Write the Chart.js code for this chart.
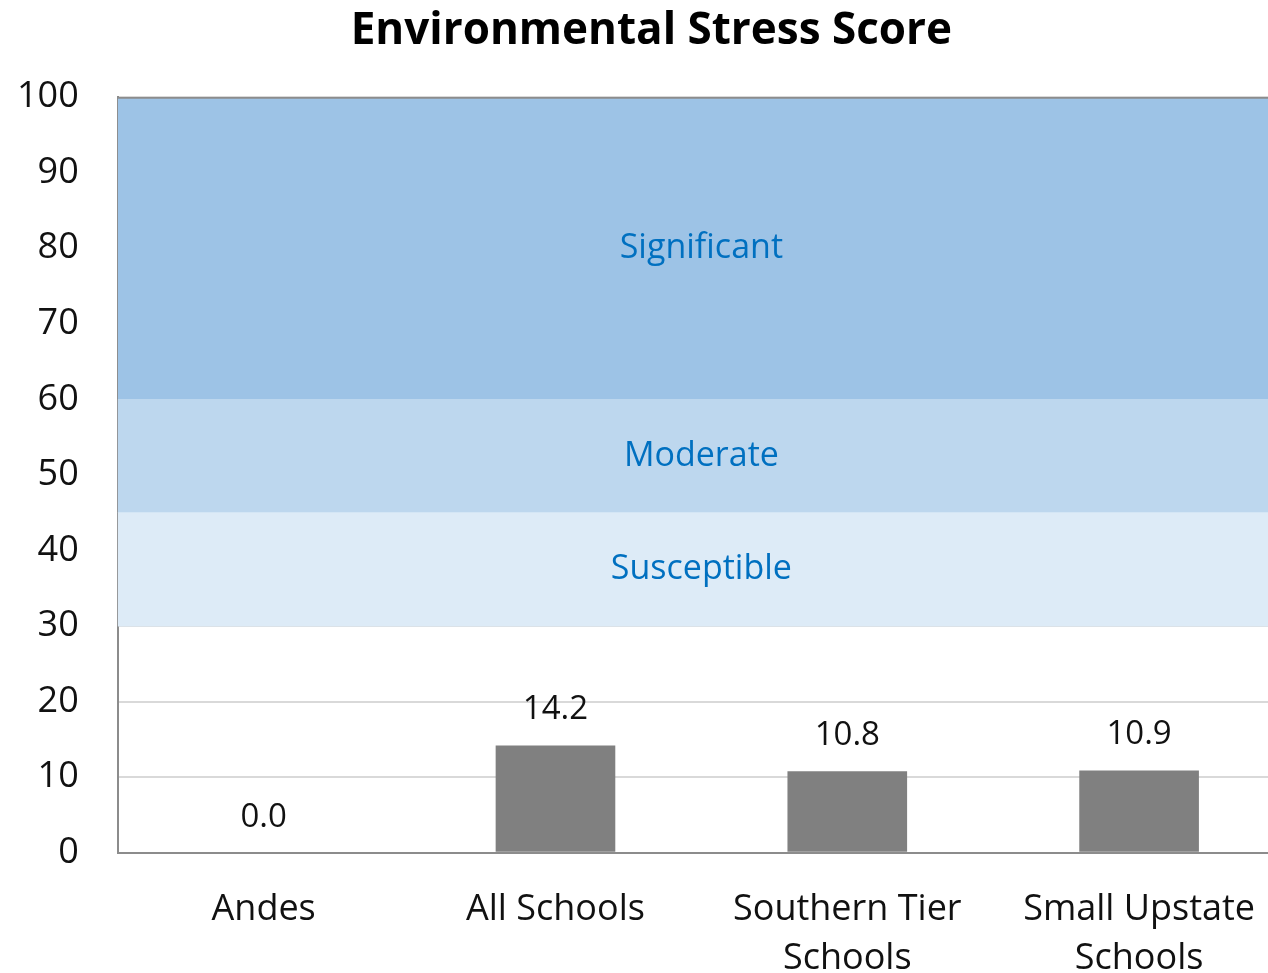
<!DOCTYPE html>
<html>
<head>
<meta charset="utf-8">
<script src="https://cdn.jsdelivr.net/npm/chart.js@4.4.1/dist/chart.umd.min.js"></script>
<style>
  html, body { margin: 0; padding: 0; background: #fff; overflow: hidden; }
  #wrap { position: relative; margin-left: -22px; width: 1346px; height: 1008px; }
</style>
</head>
<body>
<div id="wrap"><canvas id="chart"></canvas></div>
<script>
const chartTitle = 'Environmental Stress Score';

// categories and scores
const categories = ['Andes', 'All Schools', ['Southern Tier', 'Schools'], ['Small Upstate', 'Schools']];
const scores = [0.0, 14.2, 10.8, 10.9];

// background bands (stress levels)
const bandNames = ['Susceptible', 'Moderate', 'Significant'];
const bandLow = [30, 45, 60];
const bandHigh = [45, 60, 100];
const bandColors = ['#ddebf7', '#bdd7ee', '#9dc3e6'];

// y axis
const yMin = 0;
const yMax = 100;
const yStep = 10;

const FONT = '"Open Sans", sans-serif';

// band names in the middle of each band, value above each bar, and the title
const labelPlugin = {
  id: 'labels',
  afterDatasetsDraw(chart) {
    const ctx = chart.ctx;
    ctx.save();
    ctx.textAlign = 'center';
    chart.data.datasets.forEach((ds, i) => {
      const meta = chart.getDatasetMeta(i);
      if (ds.bandName) {
        const el = meta.data[0];
        ctx.font = '34px ' + FONT;
        ctx.fillStyle = '#0070c0';
        ctx.textBaseline = 'middle';
        ctx.fillText(ds.bandName, el.x, (el.y + el.base) / 2);
      } else {
        ctx.font = '33px ' + FONT;
        ctx.fillStyle = '#111';
        ctx.textBaseline = 'alphabetic';
        meta.data.forEach((el, j) => {
          ctx.fillText(ds.data[j].toFixed(1), el.x, el.y - 26);
        });
      }
    });
    // title sits a bit left of the plot centre, as in the original
    const area = chart.chartArea;
    ctx.font = 'bold 44px ' + FONT;
    ctx.fillStyle = '#000';
    ctx.textBaseline = 'middle';
    ctx.fillText(chartTitle, (area.left + area.right) / 2 - 50, 31);
    ctx.restore();
  }
};

const bandSets = bandNames.map((name, i) => ({
  label: name,
  bandName: name,
  data: [[bandLow[i], bandHigh[i]]],
  xAxisID: 'x2',
  backgroundColor: bandColors[i],
  borderColor: '#8c8c8c',
  borderWidth: i === bandNames.length - 1 ? { top: 2 } : 0,
  borderSkipped: false,
  grouped: false,
  barPercentage: 1,
  categoryPercentage: 1,
  order: 2
}));

new Chart(document.getElementById('chart'), {
  type: 'bar',
  data: {
    labels: categories,
    datasets: [
      {
        label: chartTitle,
        data: scores,
        backgroundColor: '#808080',
        grouped: false,
        barPercentage: 0.41,
        categoryPercentage: 1,
        order: 1
      },
      ...bandSets
    ]
  },
  options: {
    responsive: true,
    maintainAspectRatio: false,
    animation: false,
    layout: { padding: { left: 0, right: 39, top: 97, bottom: 0 } },
    plugins: {
      legend: { display: false },
      tooltip: { enabled: false },
      title: { display: false }
    },
    scales: {
      x: {
        grid: { display: false },
        border: { color: '#8c8c8c', width: 2 },
        ticks: {
          color: '#111',
          font: { family: FONT, size: 36, lineHeight: 1.35 },
          padding: 25,
          maxRotation: 0,
          autoSkip: false
        }
      },
      x2: {
        type: 'category',
        labels: ['band'],
        display: false,
        offset: true,
        grid: { display: false }
      },
      y: {
        min: yMin,
        max: yMax,
        ticks: {
          stepSize: yStep,
          color: '#111',
          font: { family: FONT, size: 36 },
          padding: 39
        },
        grid: { color: '#d9d9d9', lineWidth: 2, drawTicks: false },
        border: { color: '#8c8c8c', width: 2 }
      }
    }
  },
  plugins: [labelPlugin]
});
</script>
</body>
</html>
